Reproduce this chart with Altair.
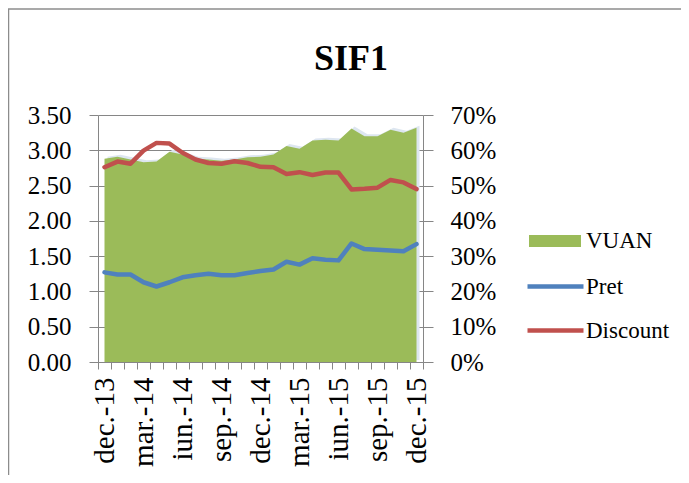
import altair as alt
import pandas as pd

months = ["dec.-13", "ian.-14", "feb.-14", "mar.-14", "apr.-14", "mai.-14", "iun.-14",
          "iul.-14", "aug.-14", "sep.-14", "oct.-14", "nov.-14", "dec.-14", "ian.-15",
          "feb.-15", "mar.-15", "apr.-15", "mai.-15", "iun.-15", "iul.-15", "aug.-15",
          "sep.-15", "oct.-15", "nov.-15", "dec.-15"]
vuan = [2.88, 2.91, 2.87, 2.83, 2.84, 2.98, 2.94, 2.88, 2.87, 2.85, 2.87, 2.90, 2.91,
        2.94, 3.06, 3.02, 3.14, 3.15, 3.14, 3.31, 3.20, 3.20, 3.29, 3.25, 3.32]
pret = [1.27, 1.24, 1.24, 1.13, 1.07, 1.13, 1.20, 1.23, 1.25, 1.23, 1.23, 1.26, 1.29,
        1.31, 1.42, 1.38, 1.47, 1.45, 1.44, 1.68, 1.60, 1.59, 1.58, 1.57, 1.67]
discount = [0.552, 0.568, 0.562, 0.599, 0.621, 0.619, 0.593, 0.574, 0.564, 0.562, 0.569,
            0.564, 0.553, 0.552, 0.533, 0.538, 0.530, 0.537, 0.537, 0.489, 0.491, 0.494,
            0.516, 0.509, 0.490]
left_ticks = [0, 0.5, 1.0, 1.5, 2.0, 2.5, 3.0, 3.5]
right_ticks = [0, 0.1, 0.2, 0.3, 0.4, 0.5, 0.6, 0.7]
label_idx = [0, 3, 6, 9, 12, 15, 18, 21, 24]
title_text = "SIF1"

df = pd.DataFrame({"idx": list(range(len(months))), "month": months,
                   "VUAN": vuan, "Pret": pret, "Discount": discount})

FONT = "Liberation Serif"
GRID = "#868686"
GREEN, BLUE, RED = "#9BBB59", "#4F81BD", "#C0504D"

xscale = alt.Scale(domain=[-0.5, len(months) - 0.5], nice=False, zero=False)
yscale = alt.Scale(domain=[0, 3.5], nice=False)
tick_axis = alt.Axis(values=[i - 0.5 for i in range(len(months) + 1)], labels=False,
                     tickSize=7, tickColor=GRID, domainColor=GRID, grid=False,
                     title=None, orient="bottom")
label_expr = "[" + ",".join("'%s'" % m for m in months) + "][round(datum.value)]"
label_axis = alt.Axis(values=label_idx, labelExpr=label_expr, ticks=False, domain=False,
                      grid=False, title=None, orient="bottom", labelAngle=-90,
                      labelFont=FONT, labelFontSize=29, labelColor="black",
                      labelPadding=15)
left_axis = alt.Axis(values=left_ticks, format=".2f", grid=True, gridColor=GRID,
                     domainColor=GRID, tickColor=GRID, tickSize=9,
                     labelFont=FONT, labelFontSize=25, labelColor="black",
                     labelPadding=18, title=None, orient="left")

base = alt.Chart(df)

glow = base.mark_area(color="#dde6f0", xOffset=3, yOffset=-2).encode(
    x=alt.X("idx:Q", scale=xscale, axis=tick_axis),
    y=alt.Y("VUAN:Q", scale=yscale, axis=left_axis),
)

area = base.transform_calculate(s="'VUAN'").mark_area(opacity=1).encode(
    x=alt.X("idx:Q", scale=xscale, axis=tick_axis),
    y=alt.Y("VUAN:Q", scale=yscale, axis=left_axis),
    fill=alt.Fill("s:N", scale=alt.Scale(domain=["VUAN"], range=[GREEN]),
                  legend=alt.Legend(orient="none", legendX=431, legendY=100, title=None,
                                    symbolType="M-1,-0.23H1V0.23H-1Z", symbolSize=2704,
                                    symbolStrokeWidth=0, labelFont=FONT, labelFontSize=23,
                                    labelColor="black", labelOffset=5, padding=0)),
)

pret_line = base.transform_calculate(s="'Pret'").mark_line(
    strokeWidth=4.5, strokeCap="round", strokeJoin="round").encode(
    x=alt.X("idx:Q", scale=xscale, axis=tick_axis),
    y=alt.Y("Pret:Q", scale=yscale, axis=left_axis),
    stroke=alt.Stroke("s:N", scale=alt.Scale(domain=["Pret"], range=[BLUE]),
                      legend=alt.Legend(orient="none", legendX=427, legendY=141, title=None,
                                        symbolType="stroke", symbolSize=3136,
                                        symbolStrokeWidth=4.5, labelFont=FONT,
                                        labelFontSize=23, labelColor="black",
                                        labelOffset=0, padding=0)),
)

one = alt.Data(values=[{}])
frame_left = alt.Chart(one).mark_rule(color="#8c8c8c", strokeWidth=1.5).encode(
    x=alt.value(-89.5), y=alt.value(-106), y2=alt.value(360))
frame_top = alt.Chart(one).mark_rule(color="#8c8c8c", strokeWidth=1.5).encode(
    x=alt.value(-90), x2=alt.value(583), y=alt.value(-106))
title = alt.Chart(one).mark_text(text=title_text, font=FONT, fontSize=36,
                                 fontWeight="bold", color="black", align="center",
                                 baseline="alphabetic").encode(
    x=alt.value(253), y=alt.value(-45))

disc_line = base.transform_calculate(s="'Discount'").mark_line(
    strokeWidth=4.5, strokeCap="round", strokeJoin="round").encode(
    x=alt.X("idx:Q", scale=xscale, axis=label_axis),
    y=alt.Y("Discount:Q", scale=alt.Scale(domain=[0, 0.7], nice=False),
            axis=alt.Axis(values=right_ticks, format=".0%", grid=False,
                          domainColor=GRID, tickColor=GRID, tickSize=10,
                          labelFont=FONT, labelFontSize=25, labelColor="black",
                          labelPadding=17, title=None, orient="right")),
    stroke=alt.Stroke("s:N", scale=alt.Scale(domain=["Discount"], range=[RED]),
                      legend=alt.Legend(orient="none", legendX=427, legendY=185, title=None,
                                        symbolType="stroke", symbolSize=3136,
                                        symbolStrokeWidth=4.5, labelFont=FONT,
                                        labelFontSize=23, labelColor="black",
                                        labelOffset=0, padding=0)),
)

left = alt.layer(glow, area, pret_line, frame_left, frame_top, title)
chart = alt.layer(left, disc_line).resolve_scale(
    y="independent", stroke="independent").resolve_axis(x="independent").properties(
    width=325, height=247,
    autosize=alt.AutoSizeParams(type="none"),
    padding={"left": 90, "top": 107, "right": 258, "bottom": 113},
).configure_view(stroke=None).configure_legend(labelFont=FONT)

chart.save("out.html", embed_options={"renderer": "svg", "actions": False})
